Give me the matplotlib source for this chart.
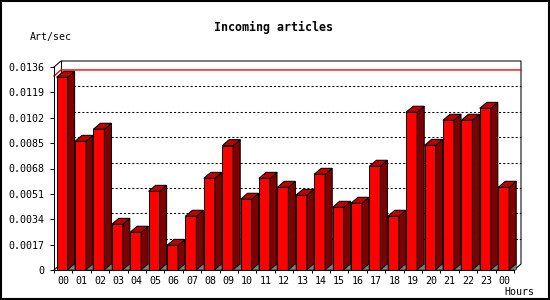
import numpy as np
import matplotlib
matplotlib.use("Agg")
import matplotlib.pyplot as plt
from matplotlib.patches import Polygon, Rectangle

# Data (articles per second, by hour)
hours = ["00", "01", "02", "03", "04", "05", "06", "07", "08", "09", "10", "11",
         "12", "13", "14", "15", "16", "17", "18", "19", "20", "21", "22", "23", "00"]
rates = [0.01291, 0.00862, 0.00943, 0.00306, 0.00253, 0.00527, 0.00165, 0.00360,
         0.00614, 0.00833, 0.00474, 0.00614, 0.00554, 0.00500, 0.00641, 0.00420,
         0.00447, 0.00695, 0.00360, 0.01057, 0.00835, 0.01003, 0.01003, 0.01083,
         0.00554]
ytick_values = [0, 0.0017, 0.0034, 0.0051, 0.0068, 0.0085, 0.0102, 0.0119, 0.0136]
ytick_labels = ["0", "0.0017", "0.0034", "0.0051", "0.0068", "0.0085",
                "0.0102", "0.0119", "0.0136"]
max_line = 0.0130

W, H = 550, 300
fig = plt.figure(figsize=(W / 100, H / 100), dpi=100)
fig.patch.set_facecolor("white")

# front plot area in pixels: x 54..514, y 270 (0) .. 67 (top)
ax = fig.add_axes([54 / W, 30 / H, 460 / W, 203 / H])
n = len(hours)
ymax = ytick_values[-1]
ax.set_xlim(0, n)
ax.set_ylim(0, ymax)
ax.set_facecolor("none")

# 3D depth offsets (7px right, 6px up) in data units
dx = 7 * n / 460
dy = 6 * ymax / 203
lw = 0.75
mono = "DejaVu Sans Mono"

# back plane: gridlines, frame and red max line
for t in ytick_values[1:-1]:
    ax.plot([dx, n + dx], [t + dy, t + dy], color="black", lw=lw,
            linestyle=(0, (2, 2)), clip_on=False, zorder=1)
ax.plot([0, dx, n + dx, n + dx, n], [ymax, ymax + dy, ymax + dy, dy, 0],
        color="black", lw=lw, clip_on=False, zorder=1)
ax.plot([dx, dx], [dy, ymax + dy], color="black", lw=lw, clip_on=False, zorder=1)
ax.plot([0, dx], [0, dy], color="black", lw=lw, clip_on=False, zorder=1)
ax.plot([0, dx, n + dx], [max_line, max_line + dy, max_line + dy],
        color="red", lw=1.0, clip_on=False, zorder=1.5)

# bars
bw = 0.6
xs = np.arange(n) + 0.14
ax.bar(xs, rates, width=bw, align="edge", color="#ff0000",
       edgecolor="black", linewidth=lw, zorder=3)
for x0, v in zip(xs, rates):
    x1 = x0 + bw
    side = Polygon([(x1, 0), (x1 + dx, dy), (x1 + dx, v + dy), (x1, v)],
                   closed=True, facecolor="#800000", edgecolor="black",
                   linewidth=lw, zorder=3, clip_on=False)
    top = Polygon([(x0, v), (x1, v), (x1 + dx, v + dy), (x0 + dx, v + dy)],
                  closed=True, facecolor="#bf0000", edgecolor="black",
                  linewidth=lw, zorder=3, clip_on=False)
    floor = Polygon([(x1, 0), (x1 + dx, dy), (x1 + dx, 0)], closed=True,
                    facecolor="#808080", edgecolor="black", linewidth=0.4,
                    zorder=3.5, clip_on=False)
    ax.add_patch(side)
    ax.add_patch(top)
    ax.add_patch(floor)

# axes and ticks
for s in ["top", "right"]:
    ax.spines[s].set_visible(False)
for s in ["left", "bottom"]:
    ax.spines[s].set_linewidth(lw)
    ax.spines[s].set_zorder(5)

ax.set_yticks(ytick_values)
ax.set_yticklabels(ytick_labels, fontfamily=mono, fontsize=7.2)
ax.set_xticks(np.arange(n + 1))
ax.set_xticklabels([])
ax.set_xticks(np.arange(n) + 0.5, minor=True)
ax.set_xticklabels(hours, minor=True, fontfamily=mono, fontsize=7.2)
ax.tick_params(axis="y", direction="out", length=3, width=lw, pad=4)
ax.tick_params(axis="x", which="major", direction="out", length=2.2, width=lw)
ax.tick_params(axis="x", which="minor", length=0, pad=4)

# texts
fig.text(273.5 / W, 1 - 27 / H, "Incoming articles", ha="center", va="center",
         fontfamily=mono, fontweight="bold", fontsize=8.4)
fig.text(30 / W, 1 - 37 / H, "Art/sec", ha="left", va="center",
         fontfamily=mono, fontsize=7.2)
fig.text(519 / W, 1 - 292 / H, "Hours", ha="center", va="center",
         fontfamily=mono, fontsize=7.2)

# image border
fig.add_artist(Rectangle((1 / W, 1 / H), 547.5 / W, 298 / H, transform=fig.transFigure,
                         fill=False, edgecolor="black", linewidth=1.5))

fig.savefig("out.png", dpi=100)
